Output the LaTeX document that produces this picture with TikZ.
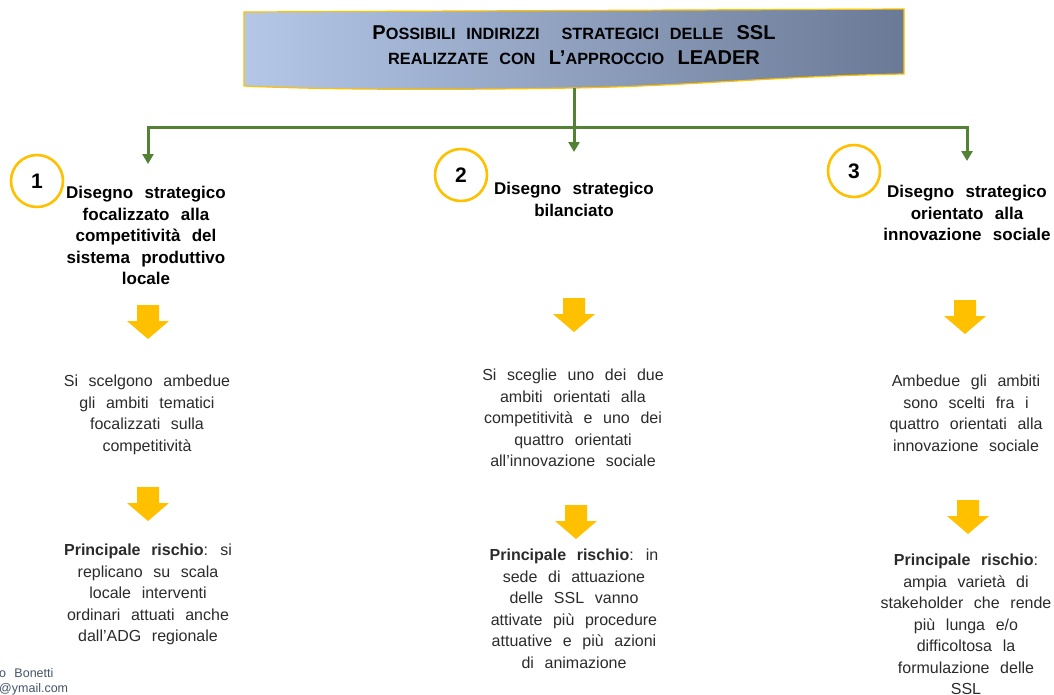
\documentclass[tikz,border=0pt]{standalone}
\usepackage{fontspec}
\setmainfont{Liberation Sans}[WordSpace=2.4]
\usetikzlibrary{arrows.meta}

\definecolor{gold}{HTML}{FFC000}
\definecolor{leafgreen}{HTML}{548235}
\definecolor{headleft}{HTML}{B4C7E7}
\definecolor{headright}{HTML}{6A7A96}
\definecolor{bodygray}{HTML}{2B2B2B}
\definecolor{footgray}{HTML}{44546A}

\newcommand{\smc}[1]{{\fontsize{16.3}{19}\selectfont #1}}

\begin{document}
\begin{tikzpicture}[x=1pt,y=-1pt]

\def\colA{148}
\def\colB{574}
\def\colC{967}
\def\hubY{127}

\tikzset{title/.style = {align=center, inner sep=0pt, anchor=north, font=\fontsize{17}{21.5}\selectfont\bfseries},
  body/.style = {align=center, inner sep=0pt, anchor=north, text=bodygray, font=\fontsize{16}{21.5}\selectfont},
  badge/.style = {draw=gold, line width=2.6pt, circle, minimum size=52pt, inner sep=0pt, font=\fontsize{21}{21}\selectfont\bfseries},
  link/.style = {draw=leafgreen, line width=3pt},
  tip/.style = {-{Triangle[width=11pt,length=10pt]}},
  yarrow/.pic = {\fill[gold] (-11,0) -- (11,0) -- (11,16) -- (21,16) -- (0,34) -- (-21,16) -- (-11,16) -- cycle;}}

\useasboundingbox (0,0) rectangle (1054,694);

% header
\shadedraw[left color=headleft, right color=headright, draw=gold, line width=1.2pt]
  (244,12) -- (904,9) -- (904,74) .. controls (780,76) and (690,86) .. (574,88)
  .. controls (450,90) and (330,90) .. (244,86) -- cycle;
\node[align=center, inner sep=0pt, font=\fontsize{20}{25}\selectfont\bfseries] (head) at (574,45)
  {P\smc{OSSIBILI INDIRIZZI \ STRATEGICI DELLE} SSL\\ \smc{REALIZZATE CON} L'\smc{APPROCCIO} LEADER};

\coordinate (headbot) at (\colB,88);
\coordinate (hub) at (\colB,\hubY);
\coordinate (in1) at (\colA,164);
\coordinate (in2) at (\colB,152);
\coordinate (in3) at (\colC,161);

\draw[link] (headbot) -- (hub);
\draw[link,tip] (hub) -- (in2);
\draw[link,tip] (hub) -| (in1);
\draw[link,tip] (hub) -| (in3);

\node[badge] (n1) at (37,181) {1};
\node[badge] (n2) at (461,175) {2};
\node[badge] (n3) at (854,171) {3};

\node[title] (t1) at (146,186) {Disegno strategico\\focalizzato alla\\competitività del\\sistema produttivo\\locale};
\node[title] (t2) at (574,182) {Disegno strategico\\bilanciato};
\node[title] (t3) at (967,185) {Disegno strategico\\orientato alla\\innovazione sociale};

\pic (ya1) at (148,305) {yarrow};
\pic (ya2) at (574,298) {yarrow};
\pic (ya3) at (965,300) {yarrow};

\node[body] (s1) at (147,375) {Si scelgono ambedue\\gli ambiti tematici\\focalizzati sulla\\competitività};
\node[body] (s2) at (573,369) {Si sceglie uno dei due\\ambiti orientati alla\\competitività e uno dei\\quattro orientati\\all'innovazione sociale};
\node[body] (s3) at (966,375) {Ambedue gli ambiti\\sono scelti fra i\\quattro orientati alla\\innovazione sociale};

\pic (yb1) at (148,487) {yarrow};
\pic (yb2) at (576,505) {yarrow};
\pic (yb3) at (968,500) {yarrow};

\node[body] (r1) at (148,544) {\textbf{Principale rischio}: si\\replicano su scala\\locale interventi\\ordinari attuati anche\\dall'ADG regionale};
\node[body] (r2) at (574,549) {\textbf{Principale rischio}: in\\sede di attuazione\\delle SSL vanno\\attivate più procedure\\attuative e più azioni\\di animazione};
\node[body] (r3) at (966,554) {\textbf{Principale rischio}:\\ampia varietà di\\stakeholder che rende\\più lunga e/o\\difficoltosa la\\formulazione delle\\SSL};

% footer
\node[anchor=base west, inner sep=0pt, text=footgray, font=\fontsize{12.5}{14}\selectfont] (au1) at (-1,677) {o Bonetti};
\node[anchor=base west, inner sep=0pt, text=footgray, font=\fontsize{12.5}{14}\selectfont] (au2) at (-1,692) {@ymail.com};

\end{tikzpicture}
\end{document}
